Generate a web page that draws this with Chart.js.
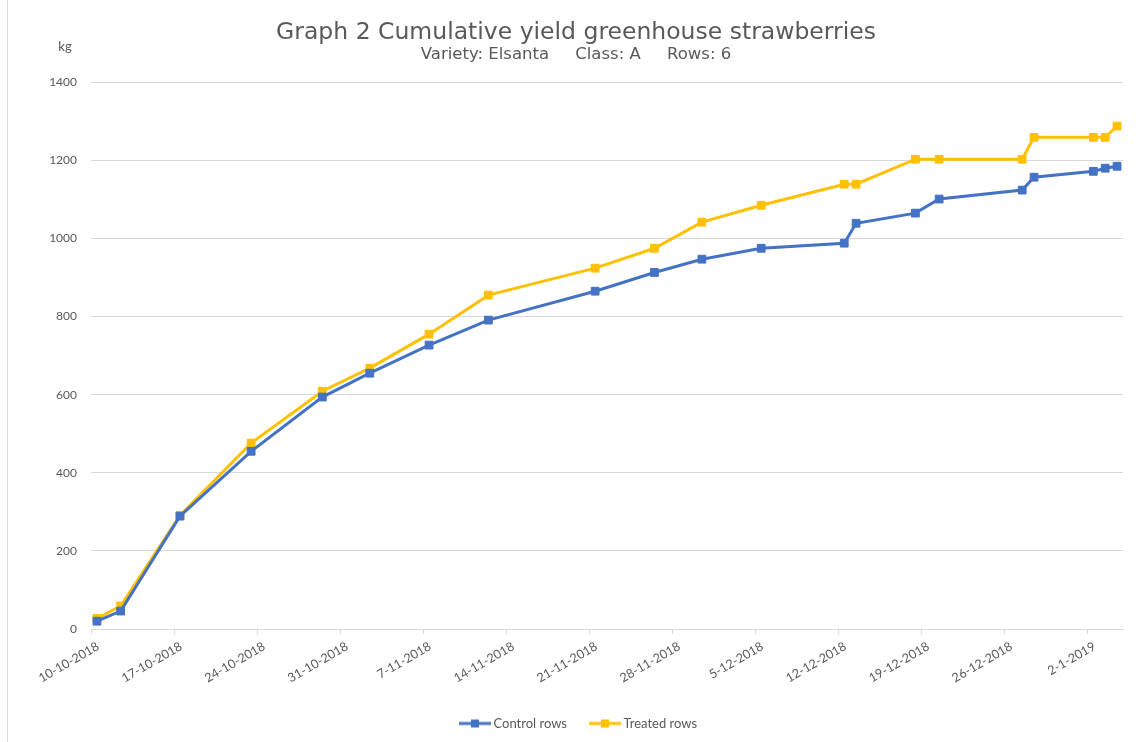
<!DOCTYPE html>
<html>
<head>
<meta charset="utf-8">
<script src="https://cdn.jsdelivr.net/npm/chart.js@4"></script>
<style>
  html, body { margin: 0; padding: 0; background: #fff; }
  #wrap { width: 1139px; height: 742px; }
</style>
</head>
<body>
<div id="wrap"><canvas id="yield_chart"></canvas></div>
<script>
// picking dates (d-m-yyyy)
dates = ['10-10-2018', '12-10-2018', '17-10-2018', '23-10-2018', '29-10-2018', '2-11-2018', '7-11-2018',
         '12-11-2018', '21-11-2018', '26-11-2018', '30-11-2018', '5-12-2018', '12-12-2018', '13-12-2018',
         '18-12-2018', '20-12-2018', '27-12-2018', '28-12-2018', '2-1-2019', '3-1-2019', '4-1-2019']
control = [20, 46, 289, 455, 594, 655, 727, 791, 865, 913, 947, 975, 988, 1039, 1065, 1101, 1124, 1157, 1172, 1180, 1185]
treated = [27, 59, 291, 476, 609, 668, 755, 855, 924, 975, 1042, 1085, 1139, 1139, 1203, 1203, 1203, 1259, 1259, 1259, 1288]
axisStart = '10-10-2018'
axisEnd = '5-1-2019'
yTicks = [0, 200, 400, 600, 800, 1000, 1200, 1400]

const DAY = 86400000;
function parseDate(s) {
    const [d, m, y] = s.split('-').map(Number);
    return Date.UTC(y, m - 1, d);
}
const t0 = parseDate(axisStart);
const dayOf = s => (parseDate(s) - t0) / DAY;
function fmt(day) {
    const d = new Date(t0 + day * DAY);
    return d.getUTCDate() + '-' + (d.getUTCMonth() + 1) + '-' + d.getUTCFullYear();
}
// excel puts each point in the middle of its day slot
const pts = vals => vals.map((v, i) => ({ x: dayOf(dates[i]) + 0.5, y: v }));

// line with a square in the middle, for the legend
function legendMark(color) {
    const c = document.createElement('canvas');
    c.width = 40; c.height = 10;
    const g = c.getContext('2d');
    g.fillStyle = color;
    g.fillRect(8, 3.5, 32, 3);
    g.fillRect(20, 1, 8, 8);
    return c;
}

const textGrey = '#595959';
const gridGrey = '#d9d9d9';

data = [
    {
        label: 'Control rows',
        data: pts(control),
        borderColor: '#4472C4',
        backgroundColor: '#4472C4',
        mark: legendMark('#4472C4'),
    },
    {
        label: 'Treated rows',
        data: pts(treated),
        borderColor: '#FFC000',
        backgroundColor: '#FFC000',
        mark: legendMark('#FFC000'),
    },
].map(d => Object.assign(d, {
    borderWidth: 3,
    tension: 0,
    pointStyle: 'rect',
    pointRadius: 5.5,
    pointBorderWidth: 1,
    pointHoverRadius: 5.5,
}));

const extras = {
    id: 'extras',
    beforeDraw(chart) {
        const ctx = chart.ctx;
        ctx.save();
        ctx.fillStyle = '#fff';
        ctx.fillRect(0, 0, chart.width, chart.height);
        ctx.strokeStyle = gridGrey;
        ctx.lineWidth = 1;
        ctx.beginPath();
        ctx.moveTo(7.5, 0);
        ctx.lineTo(7.5, chart.height);
        ctx.stroke();
        ctx.restore();
    },
    afterDraw(chart) {
        const ctx = chart.ctx, a = chart.chartArea;
        ctx.save();
        ctx.fillStyle = textGrey;
        ctx.font = '13px Lato';
        ctx.textAlign = 'center';
        ctx.textBaseline = 'middle';
        ctx.fillText('kg', a.left - 26, a.top - 35);
        ctx.restore();
    }
};

config = {
    type: 'line',
    data: { datasets: data },
    plugins: [extras],
    options: {
        responsive: true,
        maintainAspectRatio: false,
        animation: false,
        layout: { padding: { left: 29, right: 16, top: 4, bottom: 2 } },
        plugins: {
            title: {
                display: true,
                text: 'Graph 2 Cumulative yield greenhouse strawberries',
                color: textGrey,
                font: { family: 'DejaVu Sans', size: 23.5, weight: 'normal', lineHeight: 1.0 },
                padding: { top: 17, bottom: 0 },
            },
            subtitle: {
                display: true,
                text: 'Variety: Elsanta     Class: A     Rows: 6',
                color: textGrey,
                font: { family: 'DejaVu Sans', size: 16.5, weight: 'normal' },
                padding: { top: 0, bottom: 18 },
            },
            legend: {
                position: 'bottom',
                labels: {
                    color: textGrey,
                    font: { family: 'Lato', size: 13 },
                    usePointStyle: true,
                    pointStyleWidth: 32,
                    padding: 18,
                    generateLabels(chart) {
                        return Chart.defaults.plugins.legend.labels.generateLabels(chart).map(item => {
                            item.pointStyle = chart.data.datasets[item.datasetIndex].mark;
                            return item;
                        });
                    },
                },
            },
            tooltip: { enabled: false },
        },
        scales: {
            x: {
                type: 'linear',
                min: 0,
                max: dayOf(axisEnd),
                afterBuildTicks(scale) {
                    const t = [];
                    for (let v = 0; v <= scale.max; v += 7) t.push({ value: v });
                    scale.ticks = t;
                },
                afterFit(scale) { scale.height = 70; },
                ticks: {
                    color: textGrey,
                    font: { family: 'Lato', size: 12.5 },
                    minRotation: 30,
                    maxRotation: 30,
                    autoSkip: false,
                    padding: 5,
                    labelOffset: 7,
                    callback: v => fmt(v),
                },
                grid: { drawOnChartArea: false, drawTicks: true, tickLength: 5, color: gridGrey },
                border: { display: true, color: gridGrey },
            },
            y: {
                min: 0,
                max: 1400,
                afterBuildTicks(scale) { scale.ticks = yTicks.map(v => ({ value: v })); },
                afterFit(scale) { scale.width = 62; },
                ticks: {
                    color: textGrey,
                    font: { family: 'Lato', size: 12 },
                    padding: 14,
                    callback: v => String(v),
                },
                grid: { color: gridGrey, drawTicks: false },
                border: { display: false },
            },
        },
    },
};

ctx = document.getElementById('yield_chart');
new Chart(ctx, config);
</script>
</body>
</html>
